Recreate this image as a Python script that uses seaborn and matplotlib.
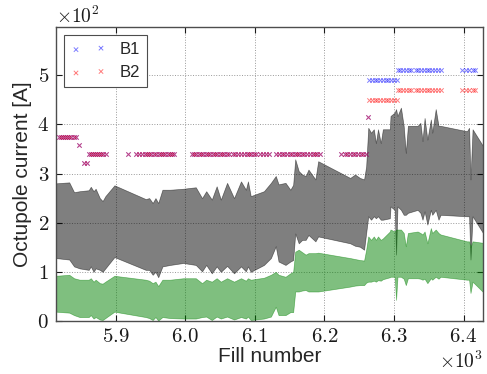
import matplotlib
matplotlib.use("Agg")
import matplotlib.pyplot as plt
import seaborn as sns
import pandas as pd

# ---------------- data ----------------
band_fill = [5814, 5833, 5840, 5848, 5861, 5864, 5868, 5871, 5877, 5881, 5885, 5898,
             5943, 5948, 5953, 5957, 5961, 5967, 5978, 5997, 6015, 6024, 6030, 6038,
             6045, 6051, 6060, 6070, 6080, 6087, 6090, 6094, 6113, 6123, 6130, 6134,
             6144, 6151, 6155, 6158, 6163, 6168, 6173, 6177, 6187, 6191, 6237, 6244,
             6251, 6257, 6260, 6263, 6267, 6271, 6274, 6277, 6281, 6284, 6294, 6295,
             6301, 6303, 6305, 6310, 6314, 6317, 6320, 6334, 6338, 6341, 6344, 6348,
             6353, 6355, 6360, 6364, 6367, 6405, 6408, 6410, 6413, 6428]
gray_top = [280, 282, 262, 264, 266, 273, 264, 269, 250, 244, 254, 276,
            248, 250, 240, 250, 240, 267, 267, 269, 272, 250, 264, 247,
            274, 247, 281, 250, 284, 267, 284, 254, 264, 281, 295, 278,
            281, 267, 277, 329, 305, 298, 295, 308, 288, 325, 291, 298,
            291, 288, 315, 393, 383, 390, 362, 390, 362, 390, 390, 417,
            424, 431, 417, 434, 396, 342, 397, 397, 403, 366, 413, 369,
            410, 383, 431, 397, 397, 386, 393, 288, 390, 356]
gray_bot = [128, 125, 111, 107, 104, 111, 100, 107, 104, 100, 107, 130,
            104, 104, 94, 100, 89, 111, 114, 118, 114, 101, 114, 97,
            111, 100, 112, 97, 111, 101, 111, 100, 114, 128, 152, 121,
            114, 121, 124, 178, 158, 165, 165, 175, 162, 172, 158, 153,
            151, 145, 179, 213, 206, 213, 209, 213, 206, 206, 209, 233,
            226, 135, 233, 226, 216, 216, 220, 226, 220, 206, 223, 196,
            226, 216, 226, 206, 216, 213, 213, 125, 213, 179]
green_top = [92, 94, 87, 84, 84, 87, 80, 84, 77, 76, 80, 92,
             84, 82, 77, 80, 71, 84, 84, 87, 87, 77, 84, 80,
             87, 80, 87, 80, 87, 82, 87, 84, 88, 94, 100, 94,
             90, 97, 100, 141, 145, 140, 135, 138, 138, 139, 128, 126,
             124, 123, 145, 172, 165, 172, 165, 172, 165, 168, 182, 186,
             182, 186, 186, 186, 179, 152, 179, 182, 179, 176, 182, 158,
             189, 179, 186, 179, 176, 162, 162, 150, 162, 159]
green_bot = [19, 17, 12, 8, 8, 12, 5, 8, 3, 2, 6, 19,
             8, 6, 2, 8, 1, 8, 6, 5, 5, 8, 9, 2,
             9, 5, 9, 3, 8, 5, 9, 2, 5, 9, 29, 12,
             12, 18, 18, 60, 60, 62, 63, 60, 60, 60, 70, 72,
             73, 73, 78, 80, 80, 82, 80, 83, 82, 85, 89, 90,
             90, 43, 90, 90, 86, 73, 87, 87, 86, 84, 86, 77,
             87, 84, 90, 86, 90, 84, 84, 57, 80, 59]

# octupole settings common to both beams (current level -> fills)
common_levels = [375, 359, 322, 340, 415]
common_fills = [
    [5818, 5821, 5824, 5827, 5830, 5833, 5836, 5840, 5843],
    [5847],
    [5854, 5858],
    [5861, 5864, 5867, 5870, 5873, 5876, 5879, 5882, 5886,
     5917, 5929, 5933, 5938, 5942, 5945, 5948, 5951, 5955, 5958, 5962, 5965,
     5968, 5971, 5975, 5978, 5981, 5984,
     6010, 6013, 6016, 6019, 6022, 6026, 6029, 6032, 6036, 6040, 6043, 6046,
     6050, 6053, 6056, 6060, 6063, 6068, 6072, 6076, 6080, 6084, 6088, 6091,
     6095, 6098, 6102, 6107, 6112, 6116, 6120,
     6131, 6135, 6139, 6142, 6146, 6150, 6153, 6157, 6160, 6164, 6168, 6171,
     6175, 6179, 6183, 6186, 6190, 6194,
     6224, 6229, 6233, 6237, 6241, 6244, 6248, 6252, 6256, 6260],
    [6262],
]
late_fills_a = [6264, 6268, 6272, 6276, 6280, 6284, 6288, 6292, 6296, 6300, 6304]
late_fills_b = [6306, 6309, 6313, 6317, 6321, 6324, 6331, 6335, 6339, 6343, 6347,
                6351, 6355, 6359, 6363, 6367, 6398, 6403, 6408, 6413, 6417]
b1_late_levels = [490, 510]
b2_late_levels = [450, 470]

xtick_vals = [5900, 6000, 6100, 6200, 6300, 6400]
ytick_vals = [0, 100, 200, 300, 400, 500]

# ---------------- assemble ----------------
def beam(late_levels):
    f, v = [], []
    for lev, fl in zip(common_levels, common_fills):
        f += fl
        v += [lev] * len(fl)
    for lev, fl in zip(late_levels, [late_fills_a, late_fills_b]):
        f += fl
        v += [lev] * len(fl)
    return pd.DataFrame({"fill": f, "current": v})

b1 = beam(b1_late_levels)
b2 = beam(b2_late_levels)

# ---------------- style ----------------
sns.set_theme(style="white")
plt.rcParams["font.family"] = ["Liberation Sans", "DejaVu Sans"]
plt.rcParams["mathtext.fontset"] = "cm"
plt.rcParams["axes.formatter.use_mathtext"] = True

BLUE, RED, GREEN, BLACK = "#0000ff", "#ff0000", "#008000", "#000000"
SANS = ["Liberation Sans", "DejaVu Sans"]

fig = plt.figure(figsize=(4.87, 3.74), dpi=100)
ax = fig.add_axes([0.1150, 0.1417, 0.8768, 0.7861])

ax.fill_between(band_fill, gray_bot, gray_top, color=BLACK, alpha=0.5, linewidth=0.5)
ax.fill_between(band_fill, green_bot, green_top, color=GREEN, alpha=0.5, linewidth=0.5)

sns.scatterplot(data=b1, x="fill", y="current", marker="x", color=BLUE, s=10,
                linewidth=0.7, alpha=0.5, label="B1", ax=ax, zorder=3)
sns.scatterplot(data=b2, x="fill", y="current", marker="x", color=RED, s=10,
                linewidth=0.7, alpha=0.5, label="B2", ax=ax, zorder=3)

ax.set_xlim(5814, 6428)
ax.set_ylim(0, 598)
ax.set_xticks(xtick_vals)
ax.set_yticks(ytick_vals)
ax.ticklabel_format(style="sci", axis="both", scilimits=(0, 0), useMathText=True,
                    useOffset=False)

ax.grid(True, color="0.6", linestyle=":", linewidth=0.7)
ax.tick_params(direction="in", top=True, right=True, bottom=True, left=True,
               length=4, width=0.8, labelsize=15, pad=5, colors="k")
for sp in ax.spines.values():
    sp.set_color("0.3")
    sp.set_linewidth(1.0)

for t in ax.get_xticklabels() + ax.get_yticklabels():
    t.set_fontfamily("cmr10")
for off in (ax.xaxis.get_offset_text(), ax.yaxis.get_offset_text()):
    off.set_fontfamily("cmr10")
    off.set_fontsize(14)

ax.set_xlabel("Fill number", fontsize=15, labelpad=1, fontfamily=SANS)
ax.set_ylabel("Octupole current [A]", fontsize=15, labelpad=4, fontfamily=SANS)

leg = ax.legend(loc="upper left", scatterpoints=2, frameon=True,
                prop={"family": SANS, "size": 12},
                fancybox=False, edgecolor="0.3", framealpha=1, borderpad=0.4,
                labelspacing=0.5, handlelength=2.1, handletextpad=0.8,
                borderaxespad=0.5)
leg.get_frame().set_linewidth(0.8)

fig.savefig("out.png", dpi=100)
